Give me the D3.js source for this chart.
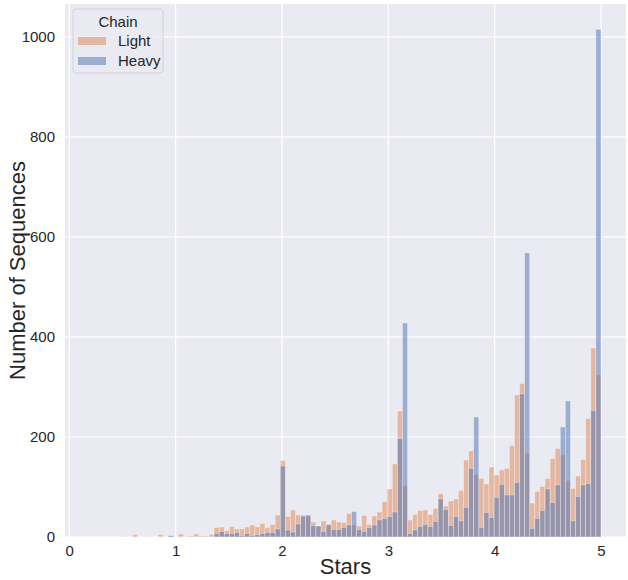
<!DOCTYPE html>
<html>
<head>
<meta charset="utf-8">
<script src="https://cdn.jsdelivr.net/npm/d3@7"></script>
<style>
  body { margin: 0; background: #fff; }
  svg { display: block; font-family: "Liberation Sans", Arial, sans-serif; }
</style>
</head>
<body>
<div id="chart"></div>
<script>
// histogram bins: 94 equal bins from 0.5 to 5 stars
const binStart = 0.5;
const binEnd = 5;
const binCount = 94;

// counts per bin
const lightCounts = [
  1, 0, 5, 0, 1, 1, 0, 5, 0, 2,
  0, 6, 1, 2, 6, 2, 2, 5, 19, 20,
  13, 21, 16, 16, 20, 24, 20, 27, 19, 25,
  44, 153, 41, 54, 44, 40, 42, 30, 22, 32,
  26, 34, 30, 29, 47, 24, 22, 43, 25, 42,
  50, 71, 96, 146, 252, 102, 34, 45, 53, 54,
  45, 57, 87, 62, 72, 76, 93, 154, 172, 125,
  117, 106, 140, 124, 134, 137, 183, 284, 307, 167,
  68, 91, 101, 117, 157, 177, 164, 113, 97, 122,
  155, 237, 378, 324
];
const heavyCounts = [
  0, 0, 0, 0, 0, 0, 0, 0, 0, 3,
  0, 0, 0, 0, 1, 0, 0, 1, 7, 11,
  7, 7, 9, 3, 7, 3, 5, 7, 9, 9,
  16, 142, 14, 10, 26, 43, 44, 23, 22, 11,
  24, 15, 15, 19, 24, 51, 15, 11, 19, 24,
  34, 37, 41, 50, 197, 428, 7, 14, 21, 25,
  21, 31, 76, 55, 23, 41, 32, 59, 137, 240,
  19, 49, 39, 79, 105, 84, 84, 109, 286, 568,
  17, 37, 53, 96, 69, 104, 220, 272, 32, 81,
  104, 107, 253, 1015
];

const seriesNames = ["Light", "Heavy"];
const seriesColors = { Light: "#dd8452", Heavy: "#4c72b0" };

const xTicks = [0, 1, 2, 3, 4, 5];
const yTicks = [0, 200, 400, 600, 800, 1000];

const width = 628, height = 580;
const plot = { left: 65, right: 626, top: 4, bottom: 537 };

const svg = d3.select("#chart").append("svg")
  .attr("width", width)
  .attr("height", height);

const binWidth = (binEnd - binStart) / binCount;
const bins = d3.range(binCount).map(i => ({
  x0: binStart + i * binWidth,
  x1: binStart + (i + 1) * binWidth,
  Light: lightCounts[i],
  Heavy: heavyCounts[i]
}));

const x = d3.scaleLinear()
  .domain([-0.04, 5.235])
  .range([plot.left, plot.right]);

const yMax = d3.max([...lightCounts, ...heavyCounts]) * 1.05;
const y = d3.scaleLinear()
  .domain([0, yMax])
  .range([plot.bottom, plot.top]);

// plot background
svg.append("rect")
  .attr("x", plot.left)
  .attr("y", plot.top)
  .attr("width", plot.right - plot.left)
  .attr("height", plot.bottom - plot.top)
  .attr("fill", "#eaeaf2");

// grid
const grid = svg.append("g");
grid.selectAll("line.gx")
  .data(xTicks)
  .enter().append("line")
  .attr("x1", d => x(d)).attr("x2", d => x(d))
  .attr("y1", plot.top).attr("y2", plot.bottom)
  .attr("stroke", "#fff").attr("stroke-width", 1.2);
grid.selectAll("line.gy")
  .data(yTicks)
  .enter().append("line")
  .attr("x1", plot.left).attr("x2", plot.right)
  .attr("y1", d => y(d)).attr("y2", d => y(d))
  .attr("stroke", "#fff").attr("stroke-width", 1.2);

// bars, Light drawn first, Heavy layered on top
seriesNames.forEach(name => {
  svg.append("g")
    .selectAll("rect")
    .data(bins.filter(b => b[name] > 0))
    .enter().append("rect")
    .attr("x", d => x(d.x0))
    .attr("width", d => x(d.x1) - x(d.x0))
    .attr("y", d => y(d[name]))
    .attr("height", d => y(0) - y(d[name]))
    .attr("fill", seriesColors[name])
    .attr("fill-opacity", 0.5)
    .attr("stroke", "#ffffff")
    .attr("stroke-opacity", 0.5)
    .attr("stroke-width", 0.6);
});

// x axis
const xAxis = svg.append("g")
  .attr("transform", `translate(0,${plot.bottom})`)
  .call(d3.axisBottom(x).tickValues(xTicks).tickFormat(d3.format("d")).tickSize(0).tickPadding(8));
xAxis.select(".domain").remove();
xAxis.selectAll("text")
  .style("font-size", "15px")
  .style("fill", "#262626")
  .style("font-family", "Liberation Sans, Arial, sans-serif");

// y axis
const yAxis = svg.append("g")
  .attr("transform", `translate(${plot.left},0)`)
  .call(d3.axisLeft(y).tickValues(yTicks).tickFormat(d3.format("d")).tickSize(0).tickPadding(10));
yAxis.select(".domain").remove();
yAxis.selectAll("text")
  .style("font-size", "15px")
  .style("fill", "#262626")
  .style("font-family", "Liberation Sans, Arial, sans-serif");

// axis titles
svg.append("text")
  .attr("x", (plot.left + plot.right) / 2)
  .attr("y", 574)
  .attr("text-anchor", "middle")
  .style("font-size", "22px")
  .style("fill", "#262626")
  .text("Stars");

svg.append("text")
  .attr("transform", `translate(25,${(plot.top + plot.bottom) / 2}) rotate(-90)`)
  .attr("text-anchor", "middle")
  .style("font-size", "22px")
  .style("fill", "#262626")
  .text("Number of Sequences");

// legend
const legend = svg.append("g").attr("transform", "translate(73,9)");
legend.append("rect")
  .attr("width", 90).attr("height", 64)
  .attr("rx", 3)
  .attr("fill", "#eaeaf2").attr("fill-opacity", 0.8)
  .attr("stroke", "#cccccc").attr("stroke-width", 0.8);
legend.append("text")
  .attr("x", 45).attr("y", 18)
  .attr("text-anchor", "middle")
  .style("font-size", "15px")
  .style("fill", "#262626")
  .text("Chain");
seriesNames.forEach((name, i) => {
  const row = legend.append("g").attr("transform", `translate(0,${32 + i * 20})`);
  row.append("rect")
    .attr("x", 5).attr("y", -4)
    .attr("width", 28).attr("height", 8)
    .attr("fill", seriesColors[name]).attr("fill-opacity", 0.5);
  row.append("text")
    .attr("x", 45).attr("y", 5)
    .style("font-size", "15px")
    .style("fill", "#262626")
    .text(name);
});
</script>
</body>
</html>
